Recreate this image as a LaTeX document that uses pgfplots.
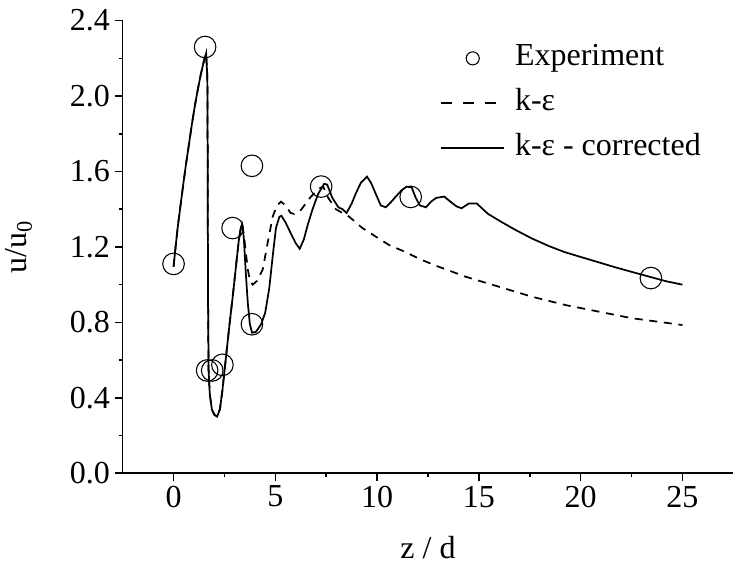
\documentclass[border=0pt]{standalone}
\usepackage{fontspec}
\setmainfont{Liberation Serif}
\usepackage{pgfplots}
\pgfplotsset{compat=1.18}
\newcommand{\chartfont}{\fontsize{24}{28}\selectfont}
\pgfplotsset{
  lineleg/.style={legend image code/.code={\draw[##1, line width=1.4pt] (0pt,0pt) -- (47pt,0pt);}},
  dashleg/.style={legend image code/.code={\draw[black, line width=1.4pt, dash pattern=on 8pt off 8.5pt] (0pt,0pt) -- (47pt,0pt);}},
  circleg/.style={legend image code/.code={\draw[black, line width=0.8pt] (23.5pt,0pt) circle (4.9pt);}},
}
\begin{document}
\begin{tikzpicture}
\useasboundingbox (0,0) rectangle (552pt,428.25pt);
\begin{axis}[
  at={(92pt,73.3pt)}, anchor=south west,
  scale only axis, width=458pt, height=339.5pt,
  xmin=-2.5, xmax=27.5, ymin=0, ymax=2.4,
  axis x line*=bottom, axis y line*=left,
  axis line style={line width=1.2pt, -},
  tick align=outside,
  major tick length=6pt, minor tick length=3pt,
  tick style={line width=1.2pt, black},
  xtick={0,5,10,15,20,25}, minor x tick num=1,
  ytick={0,0.4,0.8,1.2,1.6,2.0,2.4}, minor y tick num=1,
  yticklabel style={/pgf/number format/.cd, fixed, fixed zerofill, precision=1},
  /pgf/number format/assume math mode=true,
  tick label style={font=\chartfont},
  label style={font=\chartfont},
  xlabel={z / d},
  ylabel={u/u\textsubscript{0}},
  xlabel style={at={(axis description cs:0.5,-0.165)}, anchor=center},
  ylabel style={at={(axis description cs:-0.17,0.5)}, anchor=center},
  legend cell align=left,
  legend style={draw=none, fill=none, at={(0.52,0.951)}, anchor=north west,
    inner sep=0pt, row sep=10.75pt, column sep=7.5pt, font=\chartfont,
    nodes={inner sep=0pt, text height=17pt, text depth=6pt}},
]
\addplot[only marks, mark=o, mark size=8.1pt, mark options={line width=0.8pt, black}, circleg]
  coordinates {
  (0,1.11) (1.55,2.26) (1.65,0.545) (1.9,0.545) (2.4,0.575) (2.9,1.30)
  (3.85,1.63) (3.85,0.79) (7.25,1.52) (11.65,1.465) (23.45,1.035)
  };
\addlegendentry{Experiment}

\addplot[black, line width=1.3pt, dash pattern=on 6pt off 5pt, dashleg]
  coordinates {
  (0,1.095) (0.1,1.2) (0.2,1.3) (0.3,1.385) (0.45,1.51) (0.6,1.63) (0.75,1.74)
  (0.9,1.85) (1.05,1.95) (1.2,2.04) (1.35,2.12) (1.5,2.19) (1.6,2.227) (1.66,2.1)
  (1.68,1.6) (1.69,1.0)
  (1.72,0.55) (1.78,0.42) (1.88,0.34) (2.0,0.31) (2.14,0.30) (2.28,0.34) (2.4,0.44)
  (2.5,0.54) (2.6,0.64) (2.75,0.79) (2.9,0.93) (3.05,1.08) (3.2,1.23) (3.3,1.30)
  (3.36,1.32) (3.45,1.27) (3.55,1.17) (3.65,1.08) (3.75,1.02) (3.89,1.0) (4.1,1.02)
  (4.38,1.08) (4.62,1.22) (4.87,1.36) (5.08,1.42) (5.28,1.44) (5.5,1.42) (5.75,1.38)
  (5.93,1.375) (6.26,1.396) (6.75,1.467) (7.16,1.51) (7.35,1.52) (7.6,1.46)
  (7.97,1.40) (8.63,1.36) (9.28,1.30) (10.0,1.25) (10.59,1.21) (11.24,1.18)
  (12.22,1.13) (12.9,1.10) (13.53,1.075) (14.35,1.042) (15.98,0.989) (17.61,0.936)
  (19.25,0.892) (20.88,0.857) (22.52,0.822) (25,0.786)
  };
\addlegendentry{k-ε}

\addplot[black, line width=1.3pt, lineleg]
  coordinates {
  (0,1.095) (0.1,1.2) (0.2,1.3) (0.3,1.385) (0.45,1.51) (0.6,1.63) (0.75,1.74)
  (0.9,1.85) (1.05,1.95) (1.2,2.04) (1.35,2.12) (1.5,2.19) (1.6,2.227) (1.66,2.1)
  (1.68,1.6) (1.69,1.0)
  (1.72,0.55) (1.78,0.42) (1.88,0.34) (2.0,0.31) (2.14,0.30) (2.28,0.34) (2.4,0.44)
  (2.5,0.54) (2.6,0.64) (2.75,0.79) (2.9,0.93) (3.05,1.08) (3.2,1.23) (3.3,1.30)
  (3.36,1.32) (3.45,1.25) (3.55,1.06) (3.65,0.9) (3.75,0.79) (3.86,0.745) (4.05,0.75)
  (4.3,0.79) (4.5,0.85) (4.7,0.98) (4.87,1.15) (5.03,1.30) (5.2,1.36) (5.3,1.365)
  (5.5,1.33) (5.77,1.27) (6.0,1.22) (6.2,1.19) (6.4,1.24) (6.6,1.32) (6.83,1.40)
  (7.1,1.48) (7.4,1.535) (7.55,1.53) (7.8,1.46) (8.1,1.41) (8.3,1.40) (8.5,1.38)
  (8.75,1.43) (8.96,1.485) (9.2,1.54) (9.5,1.573) (9.7,1.54) (9.9,1.49) (10.18,1.42)
  (10.43,1.41) (10.7,1.44) (10.92,1.467) (11.2,1.50) (11.45,1.52) (11.7,1.515)
  (11.9,1.46) (12.1,1.42) (12.4,1.41) (12.65,1.44) (12.9,1.46) (13.3,1.467)
  (13.6,1.44) (13.9,1.415) (14.15,1.405) (14.5,1.43) (14.9,1.43) (15.2,1.40)
  (15.45,1.375) (16.1,1.333) (16.8,1.29) (17.6,1.245) (18.43,1.205) (19.2,1.173)
  (20.06,1.145) (20.9,1.118) (21.7,1.092) (22.6,1.065) (23.45,1.04) (24.2,1.018)
  (25,1.0)
  };
\addlegendentry{k-ε - corrected}
\end{axis}
\end{tikzpicture}
\end{document}
